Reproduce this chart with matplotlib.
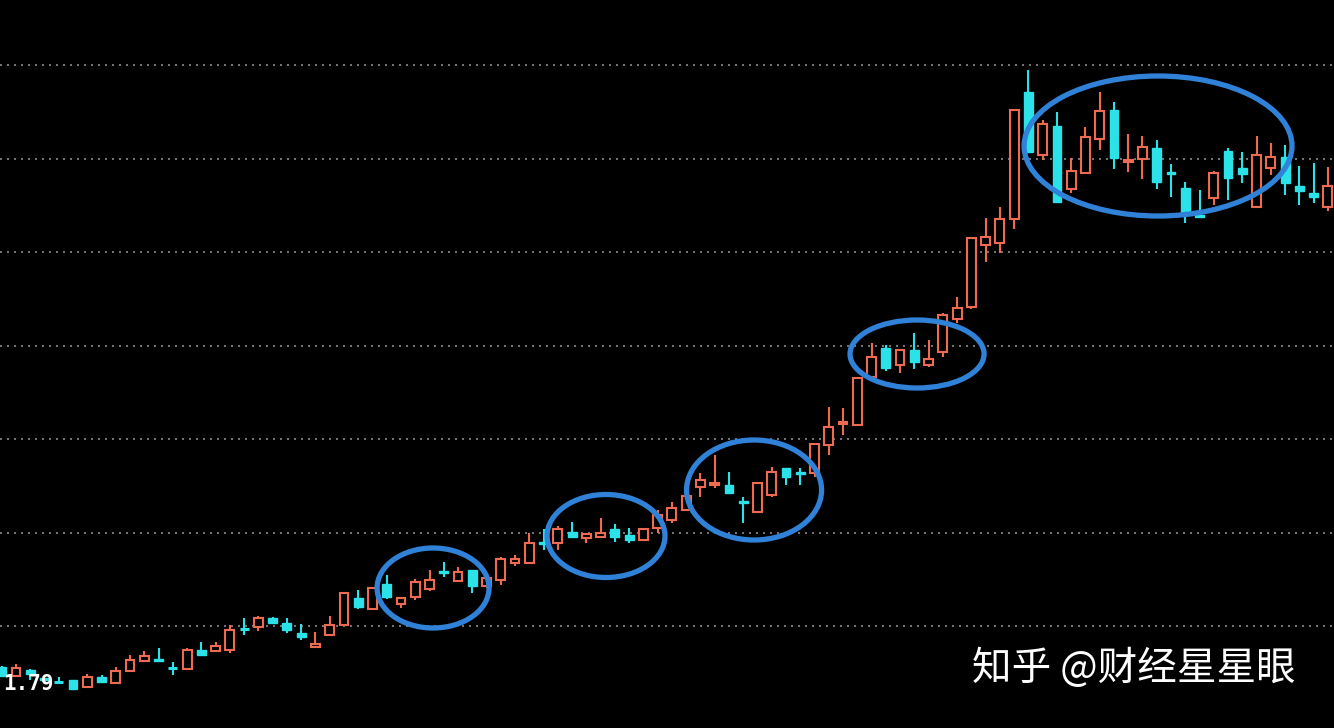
import numpy as np
import matplotlib
matplotlib.use("Agg")
import matplotlib.pyplot as plt
from matplotlib.patches import Rectangle, Ellipse

## Candle data (arbitrary price units, one candle per day)

opens = [61, 52, 58, 50, 47, 48, 41, 51, 45, 57, 67, 69, 61, 59, 78, 77, 78, 100, 101, 110,
         105, 95, 81, 93, 103, 130, 119, 144, 124, 131, 139, 157, 147, 158, 142, 148, 165, 165, 186, 185,
         196, 190, 191, 199, 193, 188, 200, 208, 218, 241, 243, 243, 227, 216, 233, 260, 256, 255, 283, 304,
         303, 351, 380, 363, 378, 363, 376, 409, 421, 483, 485, 509, 636, 573, 602, 539, 555, 589, 618, 566,
         569, 580, 556, 540, 513, 530, 577, 560, 521, 560, 571, 542, 535, 521]
highs = [62, 64, 59, 51, 51, 48, 54, 53, 61, 73, 77, 80, 66, 80, 86, 86, 103, 110, 112, 111,
         110, 104, 96, 112, 136, 138, 140, 153, 131, 149, 158, 166, 161, 158, 153, 171, 173, 195, 199, 202,
         206, 194, 210, 204, 200, 199, 218, 226, 232, 255, 273, 256, 231, 245, 261, 260, 260, 284, 321, 320,
         350, 385, 383, 378, 395, 388, 415, 431, 490, 510, 521, 618, 658, 608, 616, 570, 601, 636, 626, 594,
         592, 588, 564, 546, 538, 557, 580, 576, 592, 585, 583, 562, 565, 561]
lows = [51, 51, 48, 47, 46, 38, 40, 46, 44, 56, 66, 67, 53, 58, 72, 76, 75, 93, 97, 105,
        95, 88, 81, 93, 103, 119, 119, 129, 120, 128, 137, 151, 147, 135, 140, 143, 162, 165, 178, 178,
        191, 185, 191, 186, 185, 188, 195, 205, 218, 231, 240, 234, 205, 216, 231, 243, 243, 251, 273, 293,
        303, 350, 357, 355, 359, 361, 371, 405, 419, 466, 475, 499, 576, 568, 526, 535, 555, 578, 559, 556,
        549, 539, 531, 505, 510, 523, 528, 545, 521, 553, 533, 523, 525, 517]
closes = [52, 60, 54, 48, 46, 39, 51, 46, 57, 68, 72, 67, 60, 78, 73, 82, 98, 99, 110, 105,
          98, 91, 84, 103, 135, 121, 140, 131, 130, 146, 148, 155, 156, 142, 150, 169, 169, 185, 184, 199,
          191, 194, 195, 191, 188, 199, 213, 220, 232, 248, 245, 235, 225, 245, 256, 251, 254, 284, 301, 306,
          350, 371, 360, 378, 366, 369, 413, 420, 490, 491, 509, 618, 576, 604, 526, 557, 591, 617, 570, 568,
          581, 546, 554, 515, 511, 555, 550, 554, 573, 571, 545, 537, 531, 542]

grid_levels = [102, 195.5, 289, 382.5, 476, 569.5, 663]

# blue circles drawn on the picture: centre (day, price), width (days), height (price)
circle_x = [30.25, 42.38, 52.76, 64.19, 81.09]
circle_y = [140, 192, 238, 374, 582]
circle_w = [7.85, 8.27, 9.47, 9.40, 18.79]
circle_h = [80, 83, 100, 68, 140]

low_label = "1.79"
watermark = "知乎 @财经星星眼"

up_color = "#EE6A50"
down_color = "#2BE2E8"
ring_color = "#2F82D8"

## Figure

fig = plt.figure(figsize=(13.34, 7.28), dpi=100, facecolor="black")
ax = fig.add_axes([0, 0, 1, 1])
ax.set_facecolor("black")
ax.set_xlim(-0.12, 93.43)
ax.set_ylim(0, 728)
ax.axis("off")

for g in grid_levels:
    ax.axhline(g, color="#8a8a8a", lw=1.2, ls=(0, (1.2, 3)), zorder=1)

w = 0.62
lw = 1.5
for i in range(len(opens)):
    o, h, l, c = opens[i], highs[i], lows[i], closes[i]
    top, bot = max(o, c), min(o, c)
    if c > o:
        # hollow red body, wicks stop at the body
        ax.vlines(i, top, h, color=up_color, lw=lw, zorder=2)
        ax.vlines(i, l, bot, color=up_color, lw=lw, zorder=2)
        ax.add_patch(Rectangle((i - w / 2, bot), w, top - bot, facecolor="black",
                               edgecolor=up_color, lw=lw, zorder=3))
    else:
        ax.vlines(i, l, h, color=down_color, lw=lw, zorder=2)
        if top - bot < 1.5:
            ax.hlines((top + bot) / 2, i - w / 2, i + w / 2, color=down_color, lw=2.2, zorder=3)
        else:
            ax.add_patch(Rectangle((i - w / 2, bot), w, top - bot, facecolor=down_color,
                                   edgecolor=down_color, lw=1, zorder=3))

for cx, cy, ew, eh in zip(circle_x, circle_y, circle_w, circle_h):
    ax.add_patch(Ellipse((cx, cy), ew, eh, fill=False, edgecolor=ring_color, lw=3.8, zorder=5))

ax.text(0.09, 38, low_label, color="white", fontsize=15, family="DejaVu Sans Mono",
        fontweight="bold", va="baseline", ha="left", zorder=6)

fig.text(972 / 1334, (728 - 669) / 728, watermark, color="white", fontsize=28.5,
         family=["Noto Sans CJK SC", "DejaVu Sans"], va="center", ha="left")

fig.savefig("out.png", dpi=100, facecolor="black")
